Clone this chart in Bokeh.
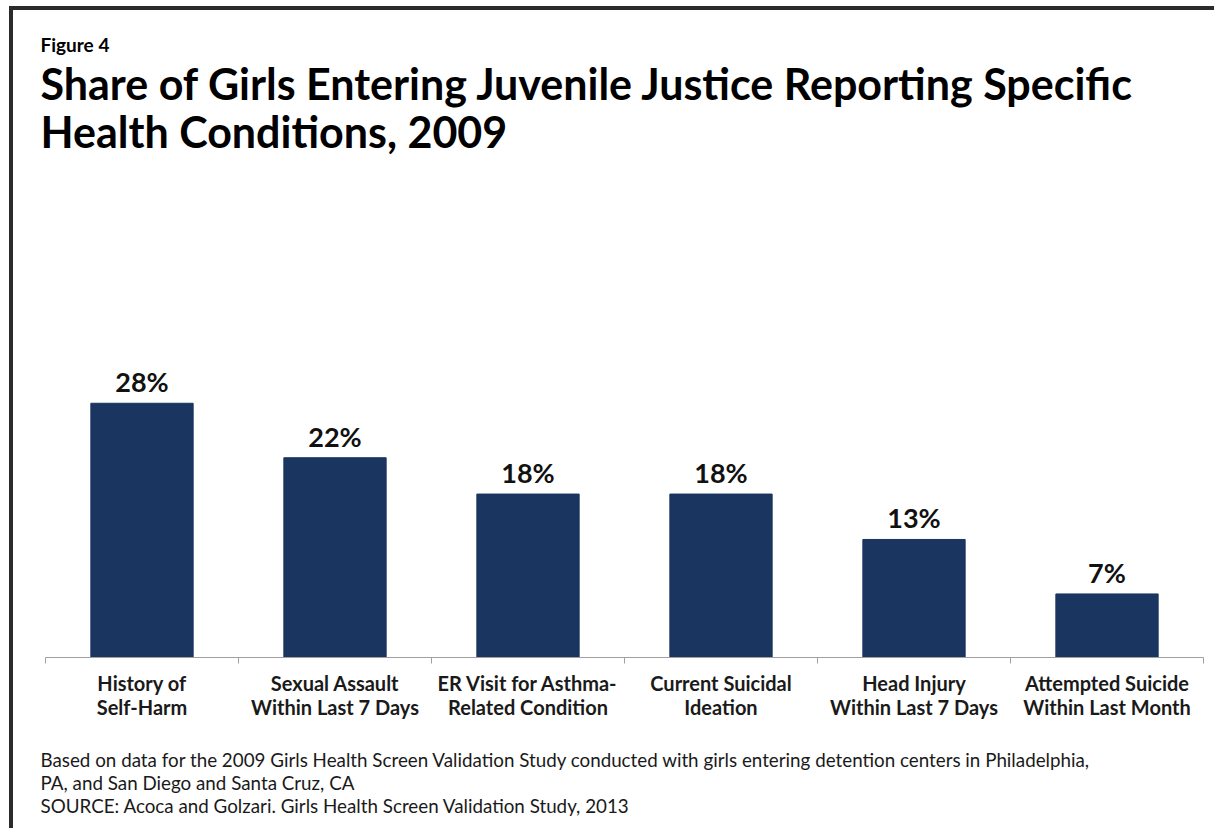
from bokeh.plotting import figure
from bokeh.models import (ColumnDataSource, LinearAxis, Range1d,
                          FixedTicker, Title)
from bokeh.core.properties import value
from bokeh.embed import file_html
from bokeh.resources import INLINE

# ---- data ----
categories = ["History of\nSelf-Harm",
              "Sexual Assault\nWithin Last 7 Days",
              "ER Visit for Asthma-\nRelated Condition",
              "Current Suicidal\nIdeation",
              "Head Injury\nWithin Last 7 Days",
              "Attempted Suicide\nWithin Last Month"]
shares = [28, 22, 18, 18, 13, 7]
share_labels = ["28%", "22%", "18%", "18%", "13%", "7%"]

figure_label = "Figure 4"
title_lines = ["Share of Girls Entering Juvenile Justice Reporting Specific",
               "Health Conditions, 2009"]
note_lines = ["Based on data for the 2009 Girls Health Screen Validation Study conducted with girls entering detention centers in Philadelphia,",
              "PA, and San Diego and Santa Cruz, CA",
              "SOURCE: Acoca and Golzari. Girls Health Screen Validation Study, 2013"]

FONT = "Lato"
BAR = "#1a3560"

n = len(categories)
centers = [i + 0.5 for i in range(n)]
bounds = list(range(n + 1))

src = ColumnDataSource(dict(x=centers, val=shares, lab=share_labels))

p = figure(frame_width=1158, frame_height=454, x_range=Range1d(0, n),
           y_range=Range1d(0, 50), output_backend="svg", toolbar_location=None,
           x_axis_location=None, y_axis_location=None,
           min_border_left=32, min_border_right=15, min_border_top=0, min_border_bottom=0)
p.styles = {"margin-top": "10px", "margin-left": "13px",
            "box-shadow": "-4px -4px 0 0 #2b2b2b"}
p.outline_line_color = None
p.grid.visible = False
p.background_fill_color = "white"
p.border_fill_color = "white"

p.vbar(x="x", top="val", width=0.53, source=src, fill_color=BAR, line_color=BAR)
p.text(x="x", y="val", text="lab", source=src, y_offset=-5,
       text_align="center", text_baseline="bottom", text_font=value(FONT),
       text_font_style="bold", text_font_size="27px", text_color="#111111")

xaxis = LinearAxis(ticker=FixedTicker(ticks=centers, minor_ticks=bounds),
                   major_label_overrides={c: lab for c, lab in zip(centers, categories)},
                   major_tick_out=0, major_tick_in=0, minor_tick_out=6, minor_tick_in=0,
                   axis_line_color="#a0a0a0", minor_tick_line_color="#a0a0a0",
                   major_label_text_font=FONT, major_label_text_font_style="bold",
                   major_label_text_font_size="20px", major_label_text_color="#1a1a1a",
                   major_label_text_line_height=1.0, major_label_standoff=7)
p.add_layout(xaxis, "below")


def spacer(px):
    return Title(text=" ", text_font=FONT, text_font_size=f"{px}px", standoff=0)


# below: spacer, notes (three lines), bottom spacer
p.add_layout(spacer(18), "below")
p.add_layout(Title(text="\n".join(note_lines), text_font=FONT, text_font_style="normal",
                   text_font_size="18.8px", text_color="#1a1a1a", align="left",
                   offset=-5, standoff=0, text_line_height=1.0), "below")
p.add_layout(spacer(12), "below")

# above: spacer, title (two lines), figure label, top spacer
p.add_layout(spacer(36.5), "above")
p.add_layout(Title(text="\n".join(title_lines), text_font=FONT, text_font_style="bold",
                   text_font_size="43px", text_color="black", align="left", offset=-5,
                   standoff=0, text_line_height=0.96), "above")
p.add_layout(Title(text=figure_label, text_font=FONT, text_font_style="bold",
                   text_font_size="19px", text_color="black", align="left", offset=-5,
                   standoff=0), "above")
p.add_layout(spacer(15), "above")

open("out.html", "w").write(file_html(p, INLINE))
